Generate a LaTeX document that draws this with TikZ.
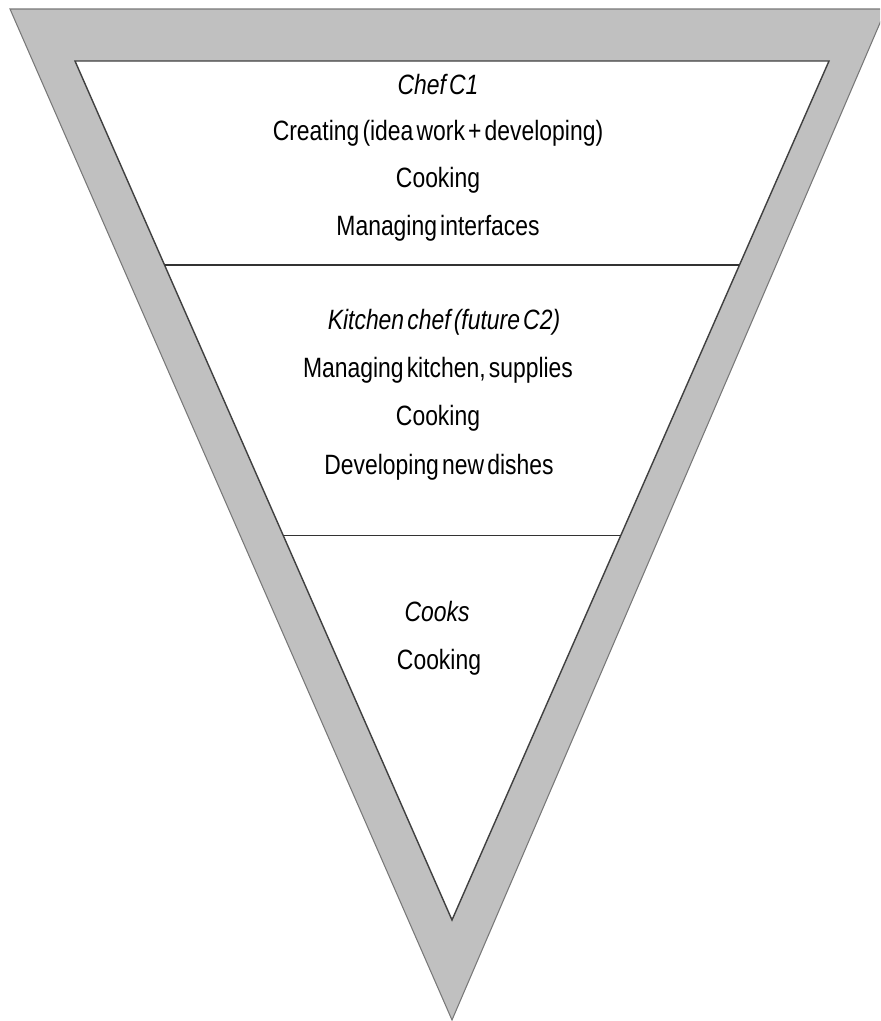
\documentclass[tikz,border=0pt]{standalone}
\usepackage{fontspec}
\setmainfont{Liberation Sans}[FakeStretch=0.82,WordSpace=0.5]
\usepackage{tikz}
\usetikzlibrary{calc}
\definecolor{pyrGray}{RGB}{192,192,192}
\definecolor{pyrEdge}{RGB}{120,120,120}
\tikzset{
  lvltext/.style={font=\fontsize{15.9}{19}\selectfont,inner sep=0pt},
  lvlhead/.style={font=\fontsize{15.9}{19}\selectfont\itshape,inner sep=0pt}
}

\begin{document}
\begin{tikzpicture}[x=0.02cm,y=-0.02cm]
        \useasboundingbox (0,0) rectangle (880,1021);
        \clip (0,0) rectangle (880,1021);

        % Triangulo externo
        \coordinate (otl) at (10,9);
        \coordinate (otr) at (886,9);
        \coordinate (oap) at (452,1020);
        \fill[pyrGray] (otl) -- (otr) -- (oap) -- cycle;
        \draw[pyrEdge,line width=0.6pt] (otl) -- (otr) -- (oap) -- cycle;

        % Triangulo interno
        \coordinate (itl) at (75,61);
        \coordinate (itr) at (829,61);
        \coordinate (iap) at (452,920);
        \filldraw[fill=white,draw=black!75,line width=0.8pt] (itl) -- (itr) -- (iap) -- cycle;

        % Divisorias
        \draw[black!80,line width=0.6pt] ($(itl)!0.2375!(iap)$) -- ($(itr)!0.2375!(iap)$);
        \draw[black!80,line width=0.6pt] ($(itl)!0.552!(iap)$) -- ($(itr)!0.552!(iap)$);

        % Nivel 1
        \node[lvlhead] (chef) at (438,85){Chef C1};
        \node[lvltext] (creating) at (438,133){Creating (idea work + developing)};
        \node[lvltext] (cookA) at (438,180){Cooking};
        \node[lvltext] (interfaces) at (438,228){Managing interfaces};

        % Nivel 2
        \node[lvlhead] (kitchen) at (444,322){Kitchen chef (future C2)};
        \node[lvltext] (supplies) at (438,370){Managing kitchen, supplies};
        \node[lvltext] (cookB) at (438,418){Cooking};
        \node[lvltext] (dishes) at (439,467){Developing new dishes};

        % Nivel 3
        \node[lvlhead] (cooks) at (437,612){Cooks};
        \node[lvltext] (cookC) at (439,662){Cooking};
      \end{tikzpicture}
\end{document}
